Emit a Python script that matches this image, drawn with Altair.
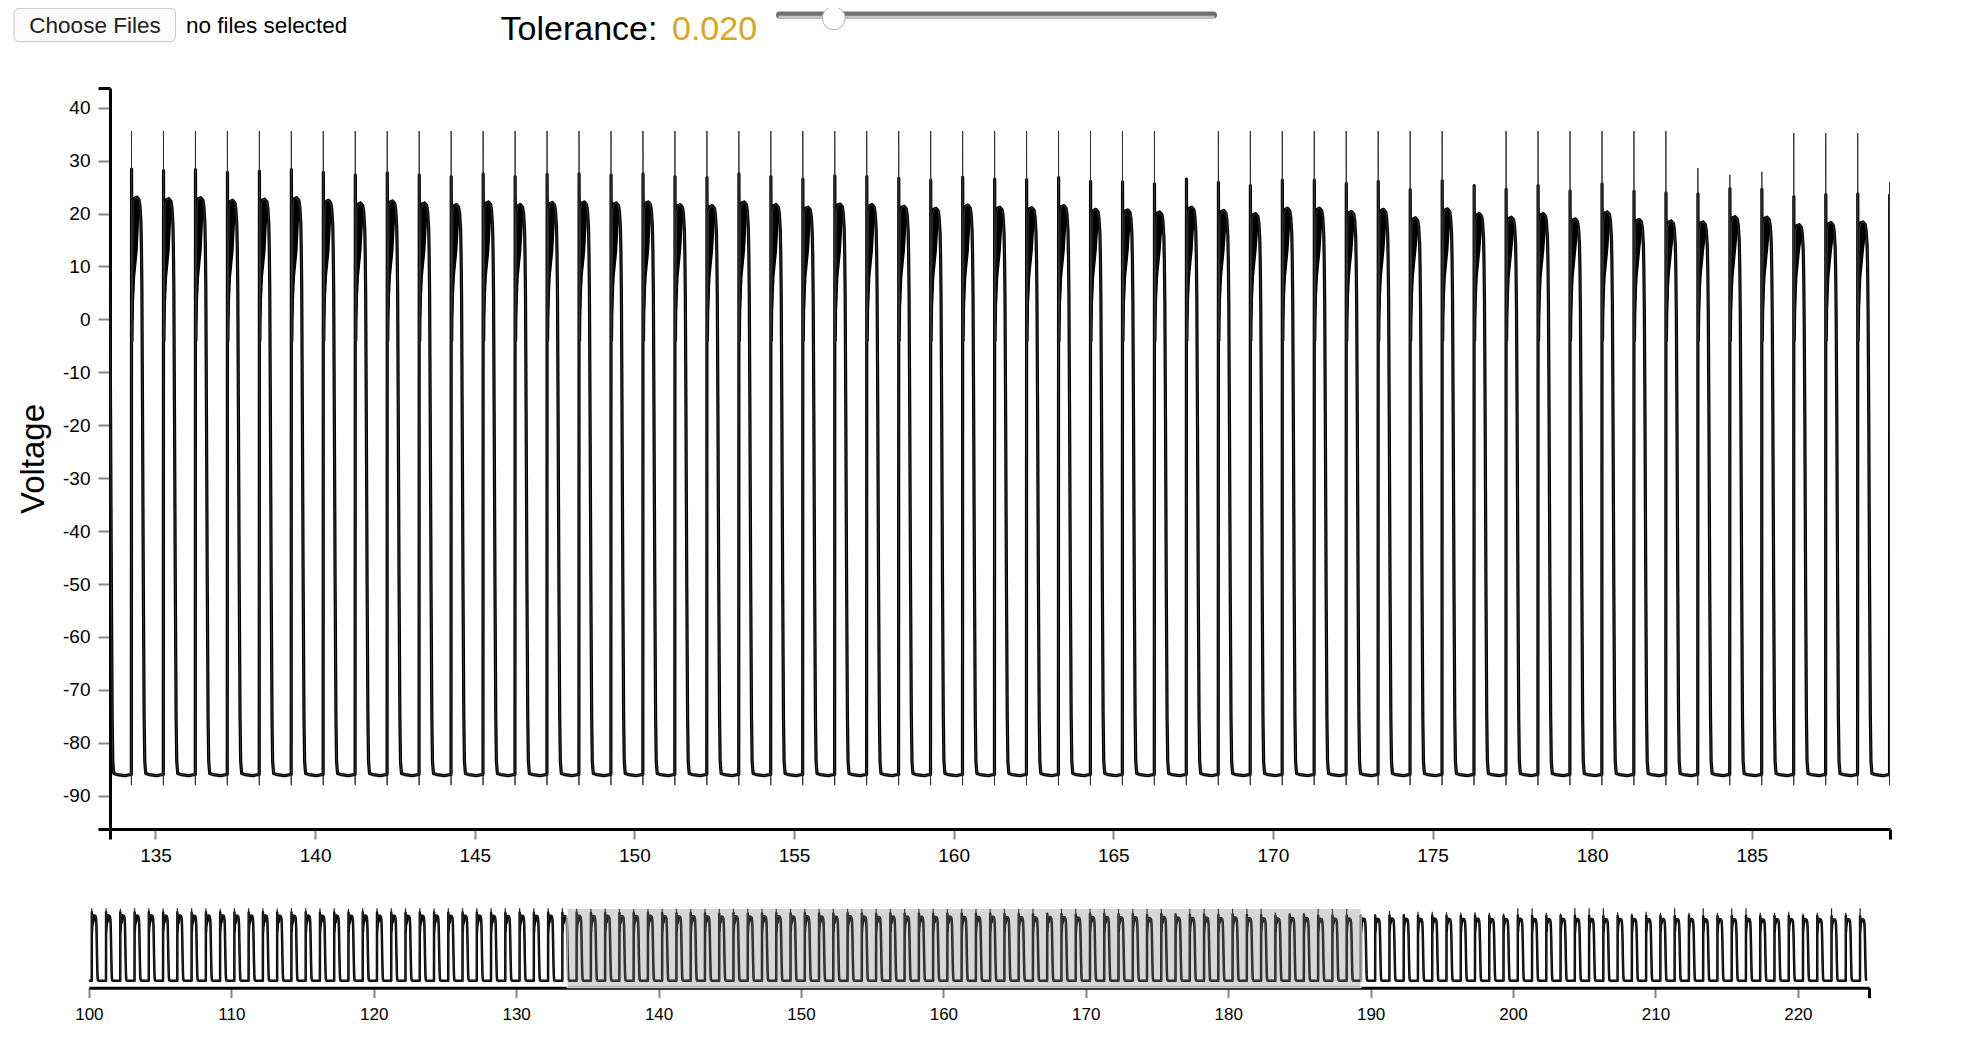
import altair as alt
import pandas as pd

# ---------------- values ----------------
trace_start = 100.0      # s, first sample of the recording
trace_end = 224.9        # s, last sample
first_beat = 100.20      # s, first upstroke
beat_period = 1.0013     # s, spacing of the upstrokes

# peak of the thin spike, one per beat (100 ... 224)
spike_tip = (
    [35.5, 35.5, 35.0, 35.5, 35.5, 35.2, 35.5, 35.5, 35.5, 35.0,
     35.5, 35.5, 35.5, 35.2, 35.5, 35.5, 35.5, 35.5, 35.0, 35.5,
     35.5, 35.5, 35.5, 35.5, 35.2, 35.5, 35.5, 35.5, 35.5, 35.5,
     35.5, 35.5, 35.5, 35.5]                                   # 100-133
    + [35.6] * 31                                               # 134-164
    + [35.6, 35.6, 26.0, 35.6, 35.6, 35.6, 35.6, 35.6, 35.6, 35.6,
       35.6, 24.2, 35.6, 35.6, 35.6, 35.6, 35.6, 35.6, 28.6, 27.3,
       27.9, 35.2, 35.2, 35.2]                                  # 165-188
    + [26.0, 26.0, 31.0, 26.0, 30.0, 30.0, 29.0, 28.5, 29.0, 28.0,
       27.0, 35.5, 35.5, 28.0, 27.0, 35.5, 35.5, 35.5, 29.0, 27.0,
       30.0, 28.0, 35.5, 28.0, 35.5, 28.0, 35.5, 35.5, 28.0, 28.0,
       30.0, 27.0, 28.0, 35.5, 28.0, 35.5]                      # 189-224
)

# plateau level, one per beat
plateau = (
    [23.5, 23.3, 23.6, 23.2, 23.4, 23.0, 23.5, 23.1, 23.3, 23.4,
     23.0, 23.2, 23.5, 22.9, 23.1, 23.3, 22.8, 23.2, 23.0, 23.3,
     22.9, 23.1, 22.8, 23.0, 23.2, 22.7, 22.9, 23.1, 22.8, 22.6,
     23.0, 22.7, 22.9, 22.6]                                   # 100-133
    + [22.9, 22.6, 22.8, 22.3, 22.5, 22.8, 22.3, 21.8, 22.2, 21.8,
       21.5, 22.0, 21.5, 21.9, 22.0, 21.8, 22.0, 21.5, 21.3, 22.0,
       21.5, 21.0, 21.6, 21.5, 21.2, 20.8, 21.4, 21.0, 20.9, 21.3,
       20.6]                                                    # 134-164
    + [20.5, 20.1, 21.0, 20.4, 19.8, 20.8, 20.8, 20.2, 20.6, 19.0,
       20.7, 19.8, 19.1, 19.8, 18.8, 20.1, 18.7, 18.4, 18.2, 19.2,
       19.1, 17.7, 18.1, 18.2]                                  # 165-188
    + [18.0, 17.6, 18.2, 17.8, 17.5, 18.1, 17.7, 17.4, 17.9, 17.6,
       17.3, 17.8, 17.5, 17.2, 17.7, 17.4, 17.6, 17.1, 17.5, 17.3,
       17.0, 17.6, 17.2, 17.4, 16.9, 17.3, 17.1, 17.5, 16.8, 17.2,
       17.0, 16.9, 17.3, 16.8, 17.1, 16.9]                      # 189-224
)

# shape of one action potential after its upstroke (s, mV);
# ap_rel = 1 -> value is an offset from that beat's plateau
ap_dt = [0.000, 0.006, 0.020, 0.060, 0.100, 0.170, 0.240, 0.270, 0.300,
         0.315, 0.330, 0.350, 0.375, 0.400, 0.420, 0.450, 0.550, 0.800, 0.985]
ap_v = [-86.0, 5.5, -4.0, -1.0, 0.0, 0.2, -0.3, -1.5, -4.5,
        -9.0, -17.0, -18.0, -50.0, -75.0, -83.5, -85.8, -86.0, -86.2, -86.0]
ap_rel = [0, 1, 0, 1, 1, 1, 1, 1, 1, 1, 1, 0, 0, 0, 0, 0, 0, 0, 0]

# raw trace: small dip, then the thin spike (tip value per beat)
spike_dt = [0.002, 0.004]
spike_dip = -88.0

# dark noisy band under the plateau (lower / upper edge)
band_dt = [0.006, 0.020, 0.060, 0.120, 0.200, 0.260]
band_lo = [5.5, -4.0, 0.0, 8.0, 13.0, -2.0]
band_lo_rel = [1, 0, 0, 0, 0, 1]
band_hi = [5.5, 3.0, -1.0, 0.1, 0.1, -1.0]

main_domain = [133.575, 189.33]     # zoomed window = brush
main_y_domain = [-96.29, 43.72]
ov_domain = [100, 225]
ov_y_domain = [-97.8, 35.6]
tolerance = 0.020
tol_domain = [0, 0.16]

# ---------------- build the traces ----------------
thick = [(trace_start, -86.0)]
raw = [(trace_start, -86.0)]
band = []
for k, (tip, p) in enumerate(zip(spike_tip, plateau)):
    t0 = first_beat + k * beat_period
    pts = [(t0 + dt, p + v if rel else v) for dt, v, rel in zip(ap_dt, ap_v, ap_rel)]
    thick += pts
    raw += pts[:1] + [(t0 + spike_dt[0], spike_dip), (t0 + spike_dt[1], tip)] + pts[1:]
    for dt, lo, lr, hi in zip(band_dt, band_lo, band_lo_rel, band_hi):
        band.append({"beat": k, "t": t0 + dt, "lo": p + lo if lr else lo, "hi": p + hi})

thick = pd.DataFrame(thick, columns=["t", "v"])
thick = thick[thick.t <= trace_end]
raw = pd.DataFrame(raw, columns=["t", "v"])
raw = raw[raw.t <= trace_end]
band = pd.DataFrame(band)

W, H = 1780, 741
FONT = "Liberation Sans"


def ends(lo, hi):
    return f"datum.value < {lo} || datum.value > {hi}"


def end_cond(test, a, b):
    return {"condition": {"test": test, "value": a}, "value": b}


x_test = ends(134, 189)
x_axis = alt.Axis(
    values=[main_domain[0]] + list(range(135, 190, 5)) + [main_domain[1]],
    labelExpr=f"({x_test}) ? '' : '' + datum.value",
    tickColor=end_cond(x_test, "black", "#888"),
    tickWidth=end_cond(x_test, 3, 2),
    tickSize=10, labelPadding=7, labelFontSize=19, labelFont=FONT,
    labelColor="black", domainColor="black", domainWidth=3, grid=False,
    title=None, labelFlush=False, labelOverlap=False, orient="bottom",
)
y_test = ends(-96, 43)
y_axis = alt.Axis(
    values=[main_y_domain[0]] + list(range(-90, 50, 10)) + [main_y_domain[1]],
    labelExpr=f"({y_test}) ? '' : '' + datum.value",
    tickColor=end_cond(y_test, "black", "#888"),
    tickWidth=end_cond(y_test, 3, 2),
    tickSize=12, labelPadding=8, labelFontSize=19, labelFont=FONT,
    labelColor="black", domainColor="black", domainWidth=3, grid=False,
    labelOverlap=False, labelFlush=False, orient="left",
    title="Voltage", titleFont=FONT, titleFontSize=33, titleFontWeight="normal",
    titleColor="black", titleAngle=270, titleAlign="center",
    titleBaseline="alphabetic", titleX=-67, titleY=H / 2,
)
ov_test = "datum.value > 224"
ov_axis = alt.Axis(
    values=list(range(100, 230, 10)) + [225],
    labelExpr=f"({ov_test}) ? '' : '' + datum.value",
    tickColor=end_cond(ov_test, "black", "#888"),
    tickWidth=end_cond(ov_test, 3, 2),
    tickSize=10, labelPadding=9, labelFontSize=17, labelFont=FONT,
    labelColor="black", domainColor="black", domainWidth=3, grid=False,
    title=None, labelFlush=False, labelOverlap=False, orient="bottom",
    offset=158.7,
)


def mx(axis=None, field="t:Q"):
    return alt.X(field, scale=alt.Scale(domain=main_domain, range=[0, W], nice=False, zero=False), axis=axis)


def my(field="v:Q", axis=None):
    return alt.Y(field, scale=alt.Scale(domain=main_y_domain, range=[H, 0], nice=False, zero=False), axis=axis)


def ox(axis=None, field="t:Q"):
    return alt.X(field, scale=alt.Scale(domain=ov_domain, range=[-21.1, 1759.1], nice=False, zero=False), axis=axis)


def oy(field="v:Q", axis=None):
    return alt.Y(field, scale=alt.Scale(domain=ov_y_domain, range=[899.7, 820.3], nice=False, zero=False), axis=axis)


# ---------------- main (zoomed) view ----------------
main_band = alt.Chart(band).mark_area(color="black", clip=True).encode(
    x=mx(), y=my("lo:Q"), y2="hi:Q", detail="beat:N")
main_line = alt.Chart(thick).mark_line(color="black", strokeWidth=3.2, clip=True, strokeJoin="round").encode(
    x=mx(x_axis), y=my(axis=y_axis))
main_raw = alt.Chart(raw).mark_line(color="#333", strokeWidth=1, clip=True).encode(
    x=mx(), y=my())

# ---------------- overview + brush ----------------
ov_band = alt.Chart(band).mark_area(color="black").encode(
    x=ox(), y=oy("lo:Q"), y2="hi:Q", detail="beat:N")
ov_line = alt.Chart(thick).mark_line(color="black", strokeWidth=2.5, strokeJoin="round").encode(
    x=ox(ov_axis), y=oy())
ov_raw = alt.Chart(raw).mark_line(color="#222", strokeWidth=1.2).encode(x=ox(), y=oy())
brush = pd.DataFrame({"x0": [main_domain[0]], "x1": [main_domain[1]],
                      "y0": [ov_y_domain[0]], "y1": [ov_y_domain[1]]})
ov_brush = alt.Chart(brush).mark_rect(fill="#777", fillOpacity=0.3, stroke="white", strokeWidth=1).encode(
    x=ox(field="x0:Q"), x2="x1:Q", y=oy("y0:Q"), y2="y1:Q")

# ---------------- controls above the chart ----------------
one = pd.DataFrame({"tol": [tolerance], "lo": [tol_domain[0]], "hi": [tol_domain[1]]})
tol_x = alt.Scale(domain=tol_domain, range=[669.5, 1103.5], nice=False, zero=False)

button = alt.Chart(one).mark_rect(cornerRadius=5, fill="#fbfbfb", stroke="#c6c6c6", strokeWidth=1).encode(
    x=alt.value(-96), x2=alt.value(65.4), y=alt.value(-79.7), y2=alt.value(-46.3))
button_text = alt.Chart(one).mark_text(text="Choose Files", font=FONT, fontSize=22.5, align="center",
                                       baseline="alphabetic", color="#222").encode(
    x=alt.value(-15), y=alt.value(-54.7))
files_text = alt.Chart(one).mark_text(text="no files selected", font=FONT, fontSize=22.5, align="left",
                                      baseline="alphabetic", color="black").encode(
    x=alt.value(76), y=alt.value(-54.7))
tol_label = alt.Chart(one).mark_text(text="Tolerance:", font=FONT, fontSize=34, align="left",
                                     baseline="alphabetic", color="black").encode(
    x=alt.value(390.6), y=alt.value(-48.5))
tol_value = alt.Chart(one).mark_text(font=FONT, fontSize=34, align="left",
                                     baseline="alphabetic", color="#DAA520").encode(
    text=alt.Text("tol:Q", format=".3f"), x=alt.value(562), y=alt.value(-48.5))
track = alt.Chart(one).mark_rule(color="#707070", strokeWidth=7, strokeCap="round").encode(
    x=alt.X("lo:Q", scale=tol_x, axis=None), x2="hi:Q", y=alt.value(-73))
track_hi = alt.Chart(one).mark_rule(color="#c4c4c4", strokeWidth=2.5, strokeCap="round").encode(
    x=alt.X("lo:Q", scale=tol_x, axis=None), x2="hi:Q", y=alt.value(-71))
thumb = alt.Chart(one).mark_circle(size=529, color="white", opacity=1, stroke="#b0b0b0", strokeWidth=1).encode(
    x=alt.X("tol:Q", scale=tol_x, axis=None), y=alt.value(-69.7))

chart = alt.layer(
    main_band, main_line, main_raw,
    ov_band, ov_line, ov_raw, ov_brush,
    button, button_text, files_text, tol_label, tol_value, track, track_hi, thumb,
).resolve_scale(
    x="independent", y="independent"
).properties(
    width=W, height=H,
    autosize=alt.AutoSizeParams(type="none"),
    padding={"left": 102, "top": 80, "right": 60, "bottom": 215},
).configure_view(stroke=None)

chart.save("out.html", embed_options={"renderer": "svg", "actions": False})
